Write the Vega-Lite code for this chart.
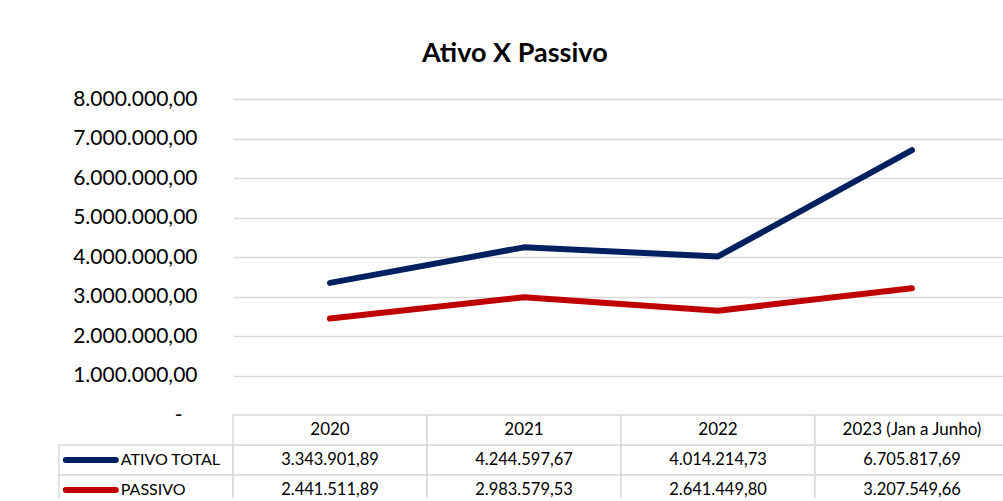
{
  "$schema": "https://vega.github.io/schema/vega-lite/v6.json",
  "padding": {"left": 53, "top": 40, "right": 0, "bottom": -8},
  "background": "#ffffff",
  "title": {
    "text": "Ativo X Passivo",
    "font": "Lato",
    "fontSize": 27,
    "fontWeight": "bold",
    "color": "#000000",
    "anchor": "middle",
    "dx": -17,
    "offset": 20
  },
  "config": {
    "locale": {"number": {"decimal": ",", "thousands": ".", "grouping": [3], "currency": ["R$ ", ""]}},
    "view": {"stroke": null},
    "font": "Lato"
  },
  "data": {
    "values": [
      {"ano": "2020", "serie": "ATIVO TOTAL", "valor": 3343901.89},
      {"ano": "2021", "serie": "ATIVO TOTAL", "valor": 4244597.67},
      {"ano": "2022", "serie": "ATIVO TOTAL", "valor": 4014214.73},
      {"ano": "2023 (Jan a Junho)", "serie": "ATIVO TOTAL", "valor": 6705817.69},
      {"ano": "2020", "serie": "PASSIVO", "valor": 2441511.89},
      {"ano": "2021", "serie": "PASSIVO", "valor": 2983579.53},
      {"ano": "2022", "serie": "PASSIVO", "valor": 2641449.80},
      {"ano": "2023 (Jan a Junho)", "serie": "PASSIVO", "valor": 3207549.66}
    ]
  },
  "bounds": "flush",
  "spacing": 0,
  "columns": 2,
  "concat": [
    {
      "width": 174,
      "height": 316,
      "data": {"values": [{"k": "a"}]},
      "mark": {"type": "text"},
      "encoding": {"text": {"value": ""}}
    },
    {
      "width": 776,
      "height": 316,
      "mark": {"type": "line", "strokeWidth": 6, "strokeCap": "round", "strokeJoin": "round"},
      "encoding": {
        "x": {
          "field": "ano",
          "type": "nominal",
          "sort": null,
          "scale": {"type": "point", "padding": 0.5},
          "axis": null
        },
        "y": {
          "field": "valor",
          "type": "quantitative",
          "scale": {"domain": [0, 8000000], "nice": false},
          "axis": {
            "values": [0, 1000000, 2000000, 3000000, 4000000, 5000000, 6000000, 7000000, 8000000],
            "labelExpr": "datum.value === 0 ? '-\u2800' : format(datum.value, ',.2f')",
            "labelFont": "Lato",
            "labelFontSize": 21,
            "labelColor": "#000000",
            "labelPadding": 36,
            "ticks": false,
            "tickSize": 0,
            "domain": false,
            "grid": true,
            "gridColor": "#d9d9d9",
            "gridWidth": 1.5,
            "title": null
          }
        },
        "color": {
          "field": "serie",
          "type": "nominal",
          "scale": {"domain": ["ATIVO TOTAL", "PASSIVO"], "range": ["#002060", "#c00000"]},
          "legend": null
        }
      }
    },
    {
      "width": 174,
      "height": 90,
      "transform": [{"filter": "datum.ano === '2020'"}],
      "encoding": {
        "y": {
          "field": "serie",
          "type": "nominal",
          "scale": {"domain": ["header", "ATIVO TOTAL", "PASSIVO"], "paddingInner": 0, "paddingOuter": 0},
          "axis": null
        }
      },
      "layer": [
        {
          "mark": {"type": "rect", "fill": "#ffffff", "stroke": "#d9d9d9", "strokeWidth": 1.5},
          "encoding": {
            "x": {"datum": "k", "type": "nominal", "scale": {"type": "band", "paddingInner": 0, "paddingOuter": 0}, "axis": null}
          }
        },
        {
          "mark": {"type": "point", "shape": "stroke", "size": 2500, "strokeWidth": 6, "strokeCap": "round", "filled": false, "opacity": 1},
          "encoding": {
            "x": {"datum": "k", "type": "nominal", "bandPosition": 0.183},
            "color": {
              "field": "serie",
              "type": "nominal",
              "scale": {"domain": ["ATIVO TOTAL", "PASSIVO"], "range": ["#002060", "#c00000"]},
              "legend": null
            }
          }
        },
        {
          "mark": {"type": "text", "align": "left", "baseline": "middle", "font": "Lato", "fontSize": 16, "color": "#000000"},
          "encoding": {
            "x": {"datum": "k", "type": "nominal", "bandPosition": 0.355},
            "text": {"field": "serie"}
          }
        }
      ]
    },
    {
      "width": 776,
      "height": 90,
      "encoding": {
        "x": {
          "field": "ano",
          "type": "nominal",
          "sort": null,
          "scale": {"type": "band", "paddingInner": 0, "paddingOuter": 0},
          "axis": null
        }
      },
      "layer": [
        {
          "mark": {"type": "rect", "fill": "#ffffff", "stroke": "#d9d9d9", "strokeWidth": 1.5},
          "encoding": {
            "y": {
              "field": "serie",
              "type": "nominal",
              "scale": {"domain": ["header", "ATIVO TOTAL", "PASSIVO"], "paddingInner": 0, "paddingOuter": 0},
              "axis": null
            }
          }
        },
        {
          "transform": [{"filter": "datum.serie === 'ATIVO TOTAL'"}],
          "mark": {"type": "rect", "fill": "#ffffff", "stroke": "#d9d9d9", "strokeWidth": 1.5},
          "encoding": {"y": {"datum": "header", "type": "nominal"}}
        },
        {
          "transform": [{"filter": "datum.serie === 'ATIVO TOTAL'"}],
          "mark": {"type": "text", "align": "center", "baseline": "middle", "font": "Lato", "fontSize": 17, "color": "#000000"},
          "encoding": {
            "y": {"datum": "header", "type": "nominal"},
            "text": {"field": "ano"}
          }
        },
        {
          "mark": {"type": "text", "align": "center", "baseline": "middle", "font": "Lato", "fontSize": 16.5, "color": "#000000"},
          "encoding": {
            "y": {"field": "serie", "type": "nominal"},
            "text": {"field": "valor", "type": "quantitative", "format": ",.2f"}
          }
        }
      ]
    }
  ]
}
